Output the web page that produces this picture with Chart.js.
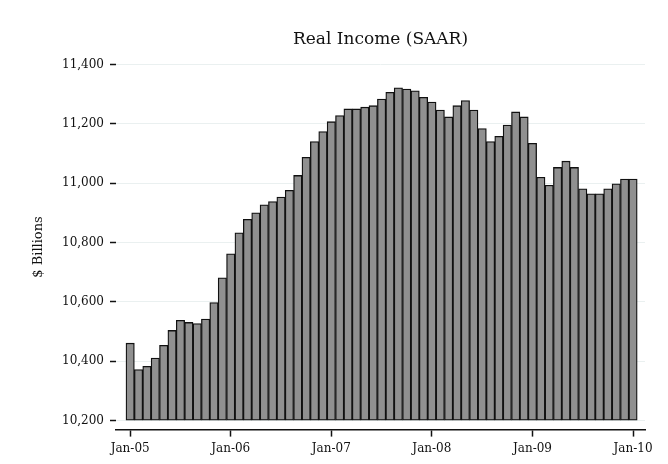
<!DOCTYPE html>
<html>
<head>
<meta charset="utf-8">
<script src="https://cdn.jsdelivr.net/npm/chart.js@4"></script>
<style>
  html, body { margin: 0; padding: 0; background: #fff; }
  #wrap { width: 668px; height: 464px; }
</style>
</head>
<body>
<div id="wrap"><canvas id="incomeChart"></canvas></div>
<script>
// Real personal income, $ billions, SAAR, monthly Jan-05 .. Jan-10
const income = [
  10461, 10372, 10383, 10411, 10454, 10504, 10538, 10531, 10527, 10542, 10598, 10681,
  10762, 10833, 10878, 10900, 10927, 10938, 10953, 10976, 11026, 11087, 11140, 11174,
  11207, 11228, 11250, 11250, 11256, 11261, 11283, 11306, 11321, 11317, 11311, 11289,
  11273, 11246, 11223, 11261, 11278, 11246, 11184, 11140, 11158, 11196, 11240, 11223,
  11134, 11020, 10993, 11053, 11074, 11053, 10981, 10964, 10964, 10981, 10998, 11014,
  11014
];
const monthNames = ['Jan', 'Feb', 'Mar', 'Apr', 'May', 'Jun', 'Jul', 'Aug', 'Sep', 'Oct', 'Nov', 'Dec'];
const years = ['05', '06', '07', '08', '09', '10'];
const yTicks = [10200, 10400, 10600, 10800, 11000, 11200, 11400];
const xTickIdx = [0, 12, 24, 36, 48, 60];

// month labels, one per bar
const months = [];
years.forEach(function (yy) {
  monthNames.forEach(function (m) { months.push(m + '-' + yy); });
});
months.length = income.length;

const serif = '"DejaVu Serif", "Liberation Serif", serif';

new Chart(document.getElementById('incomeChart'), {
  type: 'bar',
  data: {
    datasets: [{
      label: 'Real Income',
      data: income.map(function (v, i) { return { x: i, y: v }; }),
      base: 10200,
      backgroundColor: '#909090',
      borderColor: '#111',
      borderWidth: 1.3,
      borderSkipped: false,
      barPercentage: 1,
      categoryPercentage: 1
    }]
  },
  options: {
    responsive: true,
    maintainAspectRatio: false,
    animation: false,
    layout: { padding: { left: 27, right: 23, top: 0, bottom: 3 } },
    plugins: {
      legend: { display: false },
      tooltip: { enabled: false },
      title: {
        display: true,
        text: 'Real Income (SAAR)',
        fullSize: false,
        color: '#111',
        font: { family: serif, size: 17, weight: 'normal' },
        padding: { top: 29, bottom: 15 }
      }
    },
    scales: {
      x: {
        type: 'linear',
        offset: false,
        min: -1.69,
        max: 61.43,
        afterBuildTicks: function (s) {
          s.ticks = xTickIdx.map(function (v) { return { value: v }; });
        },
        ticks: {
          color: '#111',
          font: { family: serif, size: 12 },
          padding: 5,
          maxRotation: 0,
          autoSkip: false,
          callback: function (v) { return months[v]; }
        },
        grid: {
          display: true,
          offset: false,
          drawOnChartArea: false,
          drawTicks: true,
          tickLength: 7,
          tickColor: '#111',
          tickWidth: 1.5
        },
        border: { display: true, color: '#111', width: 1.5 }
      },
      y: {
        min: 10170,
        max: 11400,
        afterBuildTicks: function (s) {
          s.ticks = yTicks.map(function (v) { return { value: v }; });
        },
        afterFit: function (s) { s.width = 89; },
        ticks: {
          color: '#111',
          font: { family: serif, size: 12 },
          padding: 6,
          callback: function (v) { return v.toLocaleString('en-US'); }
        },
        grid: {
          color: '#eaf0f0',
          lineWidth: 1,
          tickLength: 6,
          tickColor: '#111',
          tickWidth: 1.5
        },
        border: { display: false },
        title: {
          display: true,
          text: '$ Billions',
          color: '#111',
          font: { family: serif, size: 13 },
          padding: { top: 4, bottom: 4 }
        }
      }
    }
  }
});
</script>
</body>
</html>
